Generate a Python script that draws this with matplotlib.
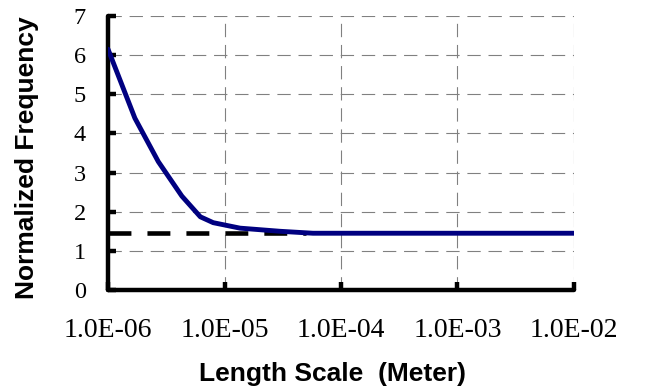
import numpy as np
import matplotlib.pyplot as plt
from matplotlib.ticker import FixedLocator, FixedFormatter

# data
length_scale = [1.0e-6, 1.7e-6, 2.7e-6, 4.3e-6, 6.2e-6, 8.0e-6,
                1.36e-5, 3.0e-5, 5.75e-5, 1.0e-4, 1.0e-3, 1.0e-2]
norm_freq = [6.15, 4.39, 3.28, 2.40, 1.87, 1.72,
             1.58, 1.50, 1.45, 1.45, 1.45, 1.45]
threshold = 1.45
threshold_span = [1.0e-6, 5.0e-5]

x_ticks = [1e-6, 1e-5, 1e-4, 1e-3, 1e-2]
x_tick_labels = ['1.0E-06', '1.0E-05', '1.0E-04', '1.0E-03', '1.0E-02']
y_ticks = [0, 1, 2, 3, 4, 5, 6, 7]

fig = plt.figure(figsize=(6.47, 3.89), dpi=100)
ax = fig.add_axes([0.167, 0.2545, 0.720, 0.7044])

ax.plot(threshold_span, [threshold, threshold], color='black', lw=3.3,
        linestyle=(0, (5.0, 3.5)), solid_capstyle='butt', zorder=3)
ax.plot(length_scale, norm_freq, color='#000080', lw=3.5,
        solid_joinstyle='round', solid_capstyle='round', zorder=4)

ax.set_xscale('log')
ax.set_xlim(1e-6, 1e-2)
ax.set_ylim(0, 7)
ax.xaxis.set_major_locator(FixedLocator(x_ticks))
ax.xaxis.set_major_formatter(FixedFormatter(x_tick_labels))
ax.xaxis.set_minor_locator(FixedLocator([]))
ax.set_yticks(y_ticks)

for s in ['top', 'right']:
    ax.spines[s].set_visible(False)
for s in ['left', 'bottom']:
    ax.spines[s].set_linewidth(3.2)
    ax.spines[s].set_capstyle('round')

ax.grid(True, color='#808080', lw=0.8, linestyle=(0, (12, 7)))
ax.set_axisbelow(True)

ax.tick_params(axis='both', direction='in', length=6, width=3.2, color='black')
ax.tick_params(axis='y', pad=16, labelsize=17.5)
ax.tick_params(axis='x', pad=20.5, labelsize=20)
for lbl in ax.get_xticklabels() + ax.get_yticklabels():
    lbl.set_fontfamily('Liberation Serif')

ax.set_xlabel('Length Scale  (Meter)', fontsize=19, fontweight='bold',
              family='Liberation Sans', labelpad=13)
ax.set_ylabel('Normalized Frequency', fontsize=19, fontweight='bold',
              family='Liberation Sans', labelpad=25)
ax.xaxis.label.set_x(0.482)
ax.yaxis.label.set_y(0.484)

fig.savefig('out.png', dpi=100)
